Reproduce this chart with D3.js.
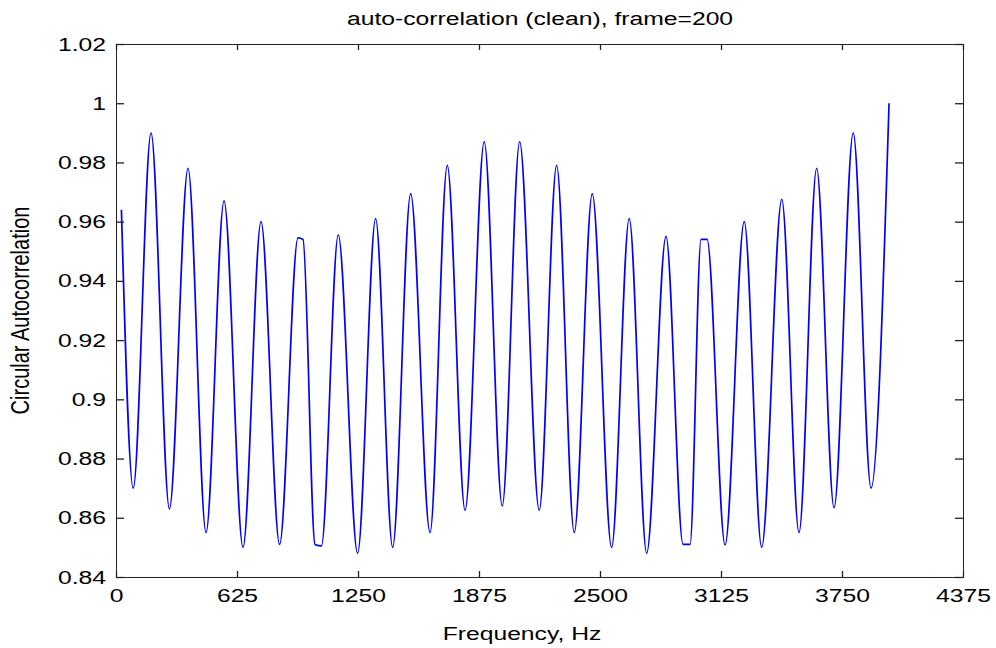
<!DOCTYPE html>
<html>
<head>
<meta charset="utf-8">
<script src="https://cdn.jsdelivr.net/npm/d3@7"></script>
<style>
  body { margin: 0; background: #fff; }
  text { font-family: "Liberation Sans", Arial, Helvetica, sans-serif; fill: #000; }
</style>
</head>
<body>
<div id="chart"></div>
<script>
// values (Hz, autocorrelation)
const freqHz = [28, 89, 181, 276, 372, 465, 558, 656, 749, 845, 940, 966, 1028, 1061, 1148, 1248,
  1341, 1429, 1522, 1622, 1711, 1803, 1902, 1995, 2085, 2186, 2276, 2367, 2460, 2560, 2651, 2741,
  2841, 2929, 2965, 3022, 3053, 3146, 3245, 3335, 3439, 3528, 3619, 3709, 3808, 3900, 3993];
const acValues = [0.964, 0.870, 0.990, 0.863, 0.978, 0.855, 0.967, 0.850, 0.960, 0.851, 0.9545, 0.954,
  0.851, 0.8505, 0.9555, 0.848, 0.961, 0.850, 0.9695, 0.855, 0.979, 0.8625, 0.987, 0.864, 0.987,
  0.8625, 0.979, 0.855, 0.9695, 0.850, 0.961, 0.848, 0.955, 0.851, 0.851, 0.954, 0.954, 0.8508,
  0.960, 0.850, 0.9675, 0.855, 0.978, 0.8634, 0.990, 0.870, 1.000];

const xTicks = [0, 625, 1250, 1875, 2500, 3125, 3750, 4375];
const yTicks = [0.84, 0.86, 0.88, 0.9, 0.92, 0.94, 0.96, 0.98, 1, 1.02];

const W = 996, H = 648;
const plotL = 116, plotR = 963, plotT = 44, plotB = 577;
const sx = 1.3; // glyphs in the picture are stretched sideways

const svg = d3.select("#chart").append("svg").attr("width", W).attr("height", H);

const x = d3.scaleLinear().domain([0, 4375]).range([plotL, plotR]);
const y = d3.scaleLinear().domain([0.84, 1.02]).range([plotB, plotT]);

// axes, ticks pointing inward on all four sides
const gx = svg.append("g").attr("transform", `translate(0,${plotB})`)
  .call(d3.axisBottom(x).tickValues(xTicks).tickSizeInner(-6).tickSizeOuter(0).tickPadding(12)
    .tickFormat(d => String(d)));
const gy = svg.append("g").attr("transform", `translate(${plotL},0)`)
  .call(d3.axisLeft(y).tickValues(yTicks).tickSizeInner(-8).tickSizeOuter(0).tickPadding(7.7)
    .tickFormat(d => String(+d.toFixed(2))));
svg.append("g").attr("transform", `translate(0,${plotT})`)
  .call(d3.axisTop(x).tickValues(xTicks).tickSizeInner(-6).tickSizeOuter(0).tickFormat(""));
svg.append("g").attr("transform", `translate(${plotR},0)`)
  .call(d3.axisRight(y).tickValues(yTicks).tickSizeInner(-8).tickSizeOuter(0).tickFormat(""));

svg.selectAll(".domain, .tick line").attr("stroke", "#222").attr("stroke-width", 1.3);
gx.selectAll("text").attr("font-size", 19).attr("fill", "#111").attr("transform", `scale(${sx},1)`);
gy.selectAll("text").attr("font-size", 19).attr("fill", "#111").attr("transform", `scale(${sx},1)`);
svg.selectAll(".domain").attr("shape-rendering", "crispEdges");

// the series
const pts = freqHz.map((f, i) => [f, acValues[i]]);
const line = d3.line().x(d => x(d[0])).y(d => y(d[1])).curve(d3.curveMonotoneX);
svg.append("path").datum(pts)
  .attr("d", line)
  .attr("fill", "none")
  .attr("stroke", "#0000ff")
  .attr("stroke-width", 1.7)
  .attr("stroke-linejoin", "round");

// title and labels
svg.append("g").attr("transform", `translate(540,25) scale(${sx},1)`)
  .append("text").attr("text-anchor", "middle").attr("font-size", 19).attr("fill", "#111")
  .text("auto-correlation (clean), frame=200");
svg.append("g").attr("transform", `translate(522,640) scale(${sx},1)`)
  .append("text").attr("text-anchor", "middle").attr("font-size", 19).attr("fill", "#111")
  .text("Frequency, Hz");
svg.append("g").attr("transform", `translate(29,${(plotT + plotB) / 2}) rotate(-90) scale(1,${sx})`)
  .append("text").attr("text-anchor", "middle").attr("font-size", 20).attr("fill", "#111")
  .text("Circular Autocorrelation");
</script>
</body>
</html>
